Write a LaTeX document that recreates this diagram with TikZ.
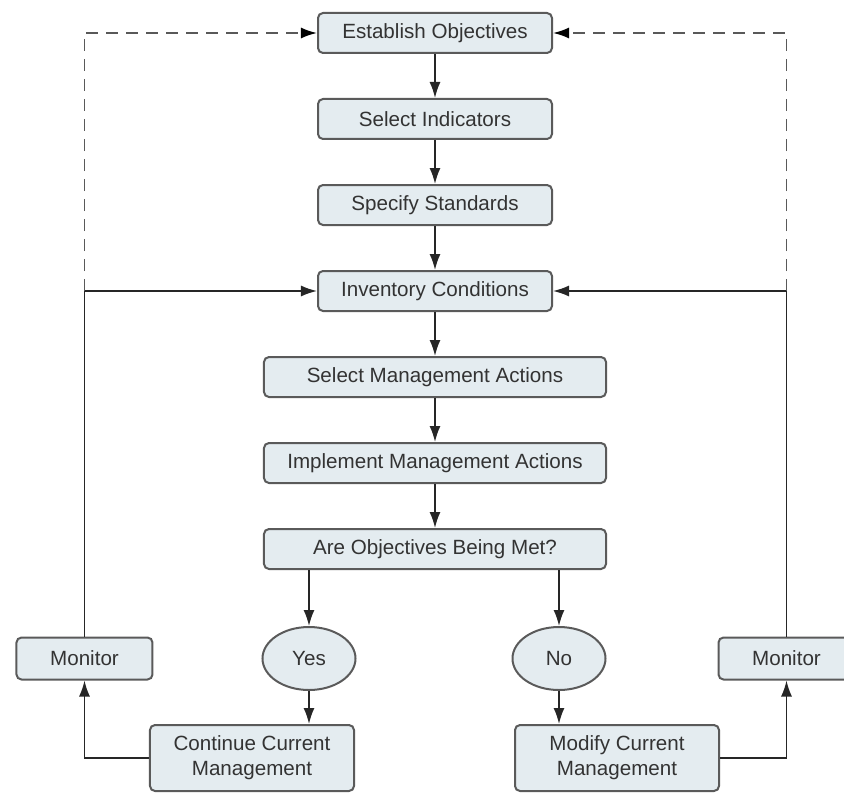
\documentclass[tikz,border=0pt]{standalone}
\usepackage{fontspec}
\setmainfont{Liberation Sans}
\usepackage{tikz}
\usetikzlibrary{positioning, shapes.geometric, arrows, arrows.meta}
\definecolor{boxfill}{HTML}{E4ECF0}
\definecolor{boxline}{HTML}{5A5A5A}
\definecolor{txt}{HTML}{333333}
\tikzset{
    proc/.style={rectangle, rounded corners=2.5pt, draw=boxline, fill=boxfill, line width=1pt, minimum width=117pt, minimum height=20pt, inner sep=2pt, text=txt, font=\fontsize{10.3}{12}\selectfont},
    wproc/.style={proc, minimum width=171pt},
    tproc/.style={proc, minimum width=102pt, minimum height=33pt, align=center, font=\fontsize{10.3}{12.5}\selectfont},
    mon/.style={proc, minimum width=68pt, minimum height=21pt},
    choice/.style={ellipse, draw=boxline, fill=boxfill, line width=1pt, minimum width=46.5pt, minimum height=31.5pt, inner sep=0pt, text=txt, font=\fontsize{10.3}{12}\selectfont},
    link/.style={-{Latex[length=8pt, width=5.5pt]}, line width=0.8pt, draw=black!85},
    loopback/.style={-{Latex[length=8pt, width=5.5pt, black]}, dashed, dash pattern=on 6pt off 4pt, line width=0.9pt, draw=black!65},
}

\begin{document}
\begin{tikzpicture}[node distance=22pt]
        \useasboundingbox (-217.5pt,16.5pt) rectangle (204.5pt,-379.5pt);
        \node [proc] (est) at (0,0) {Establish Objectives};
        \node [proc] (ind) [below=of est] {Select Indicators};
        \node [proc] (std) [below=of ind] {Specify Standards};
        \node [proc] (inv) [below=of std] {Inventory Conditions};
        \node [wproc] (sel) [below=of inv] {Select Management Actions};
        \node [wproc] (imp) [below=of sel] {Implement Management Actions};
        \node [wproc] (ask) [below=of imp] {Are Objectives Being Met?};
        \node [choice] (yes) [below=28pt of ask.south west, xshift=23pt] {Yes};
        \node [choice] (no) [below=28pt of ask.south east, xshift=-24pt] {No};
        \node [tproc] (cont) [below=16.5pt of yes, xshift=-28.5pt] {Continue Current\\Management};
        \node [tproc] (mod) [below=16.5pt of no, xshift=29pt] {Modify Current\\Management};
        \node [mon] (monl) [left=54pt of yes] {Monitor};
        \node [mon] (monr) [right=55.5pt of no] {Monitor};
        \draw[link] (est) -- (ind);
        \draw[link] (ind) -- (std);
        \draw[link] (std) -- (inv);
        \draw[link] (inv) -- (sel);
        \draw[link] (sel) -- (imp);
        \draw[link] (imp) -- (ask);
        \draw[link] (yes |- ask.south) -- (yes);
        \draw[link] (no |- ask.south) -- (no);
        \draw[link] (yes) -- (yes |- cont.north);
        \draw[link] (no) -- (no |- mod.north);
        \draw[link] (cont) -| (monl);
        \draw[link] (mod) -| (monr);
        \draw[link] (monl) |- (inv);
        \draw[link] (monr) |- (inv);
        \draw[loopback] (monl |- inv) |- (est);
        \draw[loopback] (monr |- inv) |- (est);
    \end{tikzpicture}
\end{document}
